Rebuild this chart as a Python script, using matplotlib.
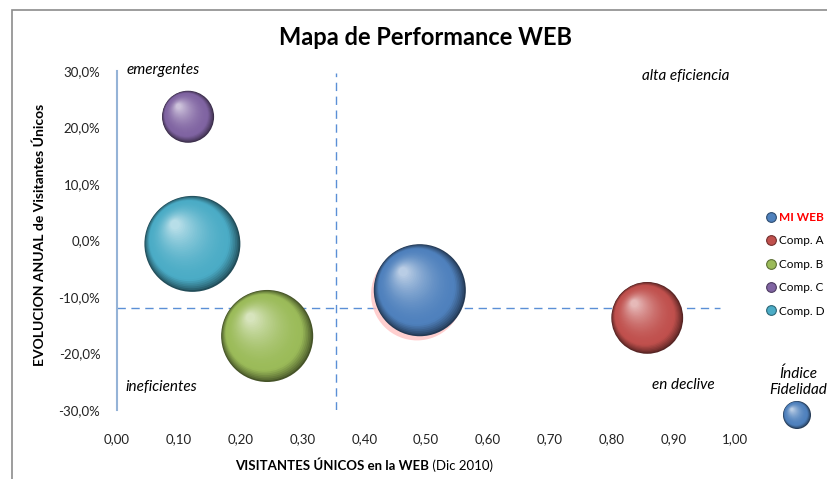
import matplotlib.pyplot as plt
import numpy as np
from matplotlib.lines import Line2D
from matplotlib.transforms import offset_copy
from matplotlib.ticker import FuncFormatter
from matplotlib.patches import Rectangle
import matplotlib.colors as mcolors

plt.rcParams['font.family'] = ['Lato', 'DejaVu Sans']

# data
names = ['MI WEB', 'Comp. A', 'Comp. B', 'Comp. C', 'Comp. D']
visitors = [0.49, 0.858, 0.243, 0.115, 0.122]        # visitantes unicos (Dic 2010)
growth = [-8.8, -13.7, -16.9, 21.9, -0.6]            # evolucion anual (%)
fidelity = [4.6, 2.8, 4.6, 1.47, 5.0]                # indice fidelidad (bubble size)
colors = ['#4f81bd', '#c0504d', '#9bbb59', '#8064a2', '#4bacc6']

threshold_x = 0.355
threshold_y = -12.0

size_scale = 955.0   # points^2 per fidelity unit


def mix(c1, c2, t):
    a = np.array(mcolors.to_rgb(c1))
    b = np.array(mcolors.to_rgb(c2))
    return tuple(a + (b - a) * t)


def layer_color(base, t):
    dark = mix(base, 'black', 0.55)
    light = mix(base, 'white', 0.6)
    if t < 0.18:
        return mix(dark, base, (t / 0.18) ** 0.8)
    u = (t - 0.18) / 0.82
    return mix(base, light, u ** 1.8)


def sphere(ax, fig, x, y, s, base, n=36, transform=None):
    r = np.sqrt(s) / 2.0  # radius in points
    hx, hy = -0.36 * r, 0.40 * r
    base_tr = transform if transform is not None else ax.transData
    for k in range(n):
        t = k / (n - 1)
        frac = 1 - 0.9 * t
        tr = offset_copy(base_tr, fig=fig, x=hx * t, y=hy * t, units='points')
        ax.scatter([x], [y], s=s * frac ** 2, color=layer_color(base, t),
                   edgecolors='none', transform=tr, clip_on=False, zorder=3 + k * 0.01)


fig = plt.figure(figsize=(8.27, 4.79), dpi=100)
ax = fig.add_axes([117 / 827, 1 - 410 / 479, 618 / 827, 339 / 479])

ax.set_xlim(0, 1)
ax.set_ylim(-30, 30)

# quadrant lines
ax.plot([threshold_x, threshold_x], [-30, 29.6], ls=(0, (6, 4)), color='#5b8fd6', lw=1, zorder=2)
ax.plot([0, 0.975], [threshold_y, threshold_y], ls=(0, (6, 4)), color='#5b8fd6', lw=1, zorder=2)

# pink glow under MI WEB
s0 = fidelity[0] * size_scale
tr_glow = offset_copy(ax.transData, fig=fig, x=-2, y=-3, units='points')
ax.scatter([visitors[0]], [growth[0]], s=s0, color='#ffc4c4', alpha=0.8,
           edgecolors='none', transform=tr_glow, zorder=2.5)

for xv, yv, f, c in zip(visitors, growth, fidelity, colors):
    sphere(ax, fig, xv, yv, f * size_scale, c)

# quadrant labels
ax.text(0.075, 30.2, 'emergentes', style='italic', fontsize=11, ha='center', va='center')
ax.text(0.92, 29.2, 'alta eficiencia', style='italic', fontsize=11, ha='center', va='center')
ax.text(0.072, -26.0, 'ineficientes', style='italic', fontsize=11, ha='center', va='center')
ax.text(0.917, -25.5, 'en declive', style='italic', fontsize=11, ha='center', va='center')

# axes styling
for sp in ['top', 'right', 'bottom']:
    ax.spines[sp].set_visible(False)
ax.spines['left'].set_color('#95b3d7')
ax.spines['left'].set_linewidth(1.5)
ax.set_xticks(np.arange(0, 1.01, 0.1))
ax.set_yticks(np.arange(-30, 31, 10))
ax.xaxis.set_major_formatter(FuncFormatter(lambda v, p: f'{v:.2f}'.replace('.', ',')))
ax.yaxis.set_major_formatter(FuncFormatter(lambda v, p: f'{v:.1f}%'.replace('.', ',')))
ax.tick_params(axis='both', length=0, labelsize=9.5, colors='#222222')
ax.tick_params(axis='x', pad=17)
ax.tick_params(axis='y', pad=12)

# title and axis labels
fig.text(0.514, 0.921, 'Mapa de Performance WEB', fontsize=17, fontweight='bold',
         ha='center', va='center')
fig.text(0.048, 0.509, 'EVOLUCION ANUAL de Visitantes Únicos', fontsize=10,
         fontweight='bold', rotation=90, ha='center', va='center')
t1 = fig.text(235 / 827, 1 - 466 / 479, 'VISITANTES ÚNICOS en la WEB', fontsize=9.5,
              fontweight='bold', ha='left', va='center')
ax.annotate(' (Dic 2010)', xy=(1, 0), xycoords=t1, va='bottom', ha='left', fontsize=9.5)

# legend
handles = [Line2D([], [], marker='o', ls='', markersize=7, markerfacecolor=c,
                  markeredgecolor=mix(c, 'black', 0.4), markeredgewidth=0.8) for c in colors]
leg = ax.legend(handles, names, loc='upper left', bbox_to_anchor=(767 / 827, 1 - 212 / 479),
                bbox_transform=fig.transFigure, frameon=False, fontsize=8.5,
                handlelength=0.7, handletextpad=0.3, labelspacing=1.05, borderpad=0,
                borderaxespad=0)
leg.get_texts()[0].set_color('red')
leg.get_texts()[0].set_fontweight('bold')

fig.text(798 / 827, 1 - 382 / 479, 'Índice\nFidelidad', style='italic', fontsize=11,
         ha='center', va='center', linespacing=1.2)
sphere(ax, fig, 797 / 827, 1 - 415 / 479, (28 * 0.72) ** 2, '#4f81bd', n=20,
       transform=fig.transFigure)

# chart border
fig.add_artist(Rectangle((12 / 827, -0.05), 1.1, 1 - 10 / 479 + 0.05, transform=fig.transFigure,
                         fill=False, edgecolor='#8c8c8c', lw=1.2))

fig.savefig('out.png', dpi=100)
